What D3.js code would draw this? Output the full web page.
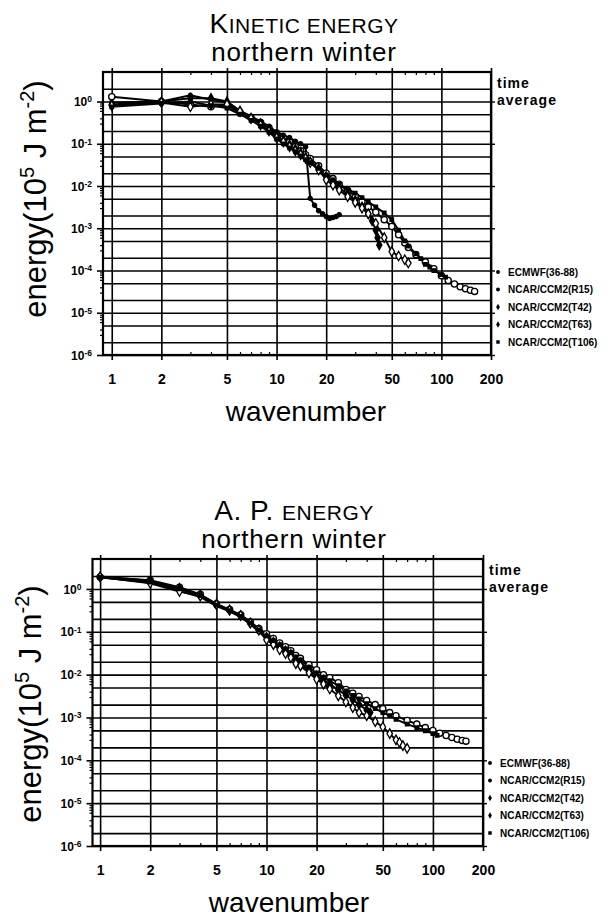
<!DOCTYPE html>
<html lang="en">
<head>
<meta charset="UTF-8">
<script src="https://cdnjs.cloudflare.com/ajax/libs/d3/7.8.5/d3.min.js"></script>
<style>
  body { margin: 0; background: #fff; }
  svg { display: block; font-family: "Liberation Sans", Arial, sans-serif; }
</style>
</head>
<body>
<svg id="fig" width="614" height="918"></svg>
<script>
// axis values
const xTicks = [1, 2, 5, 10, 20, 50, 100, 200];
const xMinor = [3, 4, 6, 7, 8, 9, 30, 40, 60, 70, 80, 90];
const yExps = [0, -1, -2, -3, -4, -5, -6];
const legendNames = ['ECMWF(36-88)', 'NCAR/CCM2(R15)', 'NCAR/CCM2(T42)', 'NCAR/CCM2(T63)', 'NCAR/CCM2(T106)'];

// kinetic energy, [wavenumber, energy in 1e5 J m-2]
const keECMWF = [[1,1.3],[2,1.0],[3,0.85],[4,0.75],[5,0.8],[6,0.55],[7,0.42],[8,0.32],[9,0.24],[10,0.18],[11,0.14],[12,0.11],[13,0.085],[14,0.068],[15,0.055],[16,0.045],[18,0.03],[20,0.02],[22,0.015],[24,0.011],[27,0.0078],[30,0.0058],[33,0.0043],[36,0.0032],[40,0.0024],[45,0.0016],[50,0.0011],[55,0.0007],[60,0.00045],[63,0.00035],[70,0.00024],[80,0.00016],[90,0.00011],[100,0.000075],[110,0.000058],[120,0.000048],[130,0.000041],[140,0.000037],[150,0.000034],[159,0.000032]];
const keR15 = [[1,0.95],[2,1.0],[3,1.4],[4,1.1],[5,0.95],[6,0.6],[7,0.45],[8,0.34],[9,0.26],[10,0.19],[11,0.16],[12,0.14],[13,0.115],[14,0.1],[15,0.085],[16,0.0051],[17,0.0035],[18,0.0026],[19,0.0022],[20,0.0019],[21,0.0017],[22,0.0018],[23,0.0019],[24,0.0021]];
const keT42 = [[1,0.85],[2,1.0],[3,1.2],[4,1.2],[5,1.0],[6,0.6],[7,0.4],[8,0.3],[9,0.22],[10,0.15],[11,0.12],[12,0.095],[13,0.075],[14,0.06],[15,0.048],[16,0.038],[18,0.026],[20,0.017],[22,0.012],[24,0.0092],[27,0.0065],[30,0.0046],[33,0.0032],[36,0.0022],[38,0.0015],[40,0.0009],[41,0.0006],[42,0.0004]];
const keT63 = [[1,0.8],[2,0.95],[3,0.75],[4,0.85],[5,0.85],[6,0.58],[7,0.4],[8,0.28],[9,0.2],[10,0.14],[11,0.11],[12,0.085],[13,0.068],[14,0.055],[15,0.045],[16,0.036],[18,0.024],[20,0.014],[22,0.0105],[24,0.008],[27,0.0056],[30,0.0041],[33,0.003],[36,0.0022],[40,0.0013],[45,0.0006],[50,0.00028],[55,0.00022],[60,0.00018],[63,0.00015]];
const keT106 = [[1,0.75],[2,0.9],[3,1.0],[4,0.8],[5,0.7],[6,0.5],[7,0.36],[8,0.26],[9,0.19],[10,0.13],[11,0.1],[12,0.08],[13,0.065],[14,0.052],[15,0.042],[16,0.036],[18,0.026],[20,0.018],[22,0.014],[24,0.011],[27,0.0085],[30,0.0068],[33,0.0053],[36,0.0042],[40,0.0032],[45,0.0023],[50,0.0016],[55,0.0009],[60,0.0005],[63,0.00038],[70,0.00025],[75,0.00019],[80,0.00014],[85,0.00012],[90,0.0001],[100,0.00008],[106,0.00007]];

// available potential energy
const apECMWF = [[1,1.9],[2,1.6],[3,1.1],[4,0.75],[5,0.45],[6,0.33],[7,0.25],[8,0.17],[9,0.12],[10,0.09],[11,0.07],[12,0.055],[13,0.045],[14,0.036],[15,0.028],[16,0.024],[18,0.017],[20,0.013],[22,0.01],[24,0.0085],[27,0.0065],[30,0.0045],[33,0.0037],[36,0.0031],[40,0.0025],[45,0.002],[50,0.0016],[55,0.0013],[60,0.0011],[70,0.00085],[80,0.0007],[90,0.00058],[100,0.0005],[110,0.00043],[120,0.00038],[130,0.00034],[140,0.00031],[150,0.00029],[158,0.00028]];
const apR15 = [[1,1.9],[2,1.4],[3,0.9],[4,0.65],[5,0.4],[6,0.3],[7,0.22],[8,0.15],[9,0.1],[10,0.07],[11,0.055],[12,0.042],[13,0.034],[14,0.028],[15,0.021],[16,0.017],[18,0.012],[20,0.0085],[22,0.0065],[24,0.0052]];
const apT42 = [[1,1.95],[2,1.55],[3,1.05],[4,0.72],[5,0.44],[6,0.32],[7,0.24],[8,0.16],[9,0.11],[10,0.075],[11,0.058],[12,0.045],[13,0.036],[14,0.03],[15,0.022],[16,0.019],[18,0.013],[20,0.0095],[22,0.0075],[24,0.006],[27,0.0044],[30,0.0033],[33,0.0026],[36,0.002],[40,0.0015],[42,0.0013]];
const apT63 = [[1,1.9],[2,1.36],[3,0.87],[4,0.68],[5,0.43],[6,0.32],[7,0.24],[8,0.16],[9,0.11],[10,0.065],[11,0.05],[12,0.038],[13,0.031],[14,0.025],[15,0.018],[16,0.016],[18,0.011],[20,0.0078],[22,0.006],[24,0.0046],[27,0.0032],[30,0.0023],[33,0.0017],[36,0.0013],[40,0.0011],[45,0.0008],[50,0.0006],[55,0.00042],[60,0.0003],[63,0.00026],[66,0.00022],[70,0.00019]];
const apT106 = [[1,1.85],[2,1.45],[3,1.0],[4,0.7],[5,0.42],[6,0.31],[7,0.23],[8,0.16],[9,0.11],[10,0.08],[11,0.062],[12,0.05],[13,0.04],[14,0.033],[15,0.026],[16,0.022],[18,0.015],[20,0.011],[22,0.0088],[24,0.0072],[27,0.0055],[30,0.0042],[33,0.0033],[36,0.0027],[40,0.0021],[45,0.0016],[50,0.0013],[55,0.0011],[60,0.0009],[70,0.0007],[80,0.00058],[90,0.00049],[100,0.00042],[106,0.00038]];

const symTypes = [d3.symbolCircle, d3.symbolCircle, d3.symbolDiamond, d3.symbolDiamond, d3.symbolSquare];
const symSize = [30, 14, 24, 26, 12];
const symFill = ['#fff', '#000', '#000', '#fff', '#000'];

const svg = d3.select('#fig');

function drawPanel(p) {
  const x = d3.scaleLog().domain(p.xDomain).range([p.left, p.right]);
  const y = d3.scaleLog().domain([1e-6, 5]).range([p.bottom, p.top]);
  const w = p.right - p.left, h = p.bottom - p.top;
  const g = svg.append('g');

  const gridY = [];
  yExps.forEach(e => [1, 2, 5].forEach(m => gridY.push(m * Math.pow(10, e))));
  const minorY = [];
  yExps.slice(1).forEach(e => [3, 4, 6, 7, 8, 9].forEach(m => minorY.push(m * Math.pow(10, e))));

  // horizontal grid
  g.append('g').attr('transform', `translate(${p.left},0)`)
    .call(d3.axisLeft(y).tickValues(gridY.filter(v => v < 4)).tickSize(-w).tickFormat(''))
    .call(a => a.select('.domain').remove())
    .selectAll('line').attr('stroke', '#000').attr('stroke-width', 1.6);

  // vertical grid, poking out of the frame
  g.append('g').attr('transform', `translate(0,${p.bottom + 5})`)
    .call(d3.axisBottom(x).tickValues(xTicks).tickSize(-(h + 9)).tickFormat(''))
    .call(a => a.select('.domain').remove())
    .selectAll('line').attr('stroke', '#000').attr('stroke-width', 1.6);

  // minor ticks
  [p.bottom, p.top].forEach((yy, k) => {
    g.append('g').attr('transform', `translate(0,${yy})`)
      .call(d3.axisBottom(x).tickValues(xMinor).tickSize(k ? 3 : -3).tickFormat(''))
      .call(a => a.select('.domain').remove())
      .selectAll('line').attr('stroke', '#000').attr('stroke-width', 1.2);
  });
  g.append('g').attr('transform', `translate(${p.left},0)`)
    .call(d3.axisLeft(y).tickValues(minorY).tickSize(3).tickFormat(''))
    .call(a => a.select('.domain').remove())
    .selectAll('line').attr('stroke', '#000').attr('stroke-width', 1.2);

  // left ticks + labels
  const decades = yExps.map(e => Math.pow(10, e));
  const yl = g.append('g').attr('transform', `translate(${p.left},0)`)
    .call(d3.axisLeft(y).tickValues(decades).tickSize(6).tickFormat(''))
    .call(a => a.select('.domain').remove());
  yl.selectAll('line').attr('stroke', '#000').attr('stroke-width', 1.6);
  yl.selectAll('.tick').each(function (d) {
    const t = d3.select(this).append('text')
      .attr('x', -11).attr('dy', '0.35em').attr('text-anchor', 'end')
      .attr('fill', '#000').attr('font-size', 12).attr('font-weight', 'bold')
      .attr('font-family', '"Liberation Sans", Arial, sans-serif');
    t.append('tspan').text('10');
    t.append('tspan').attr('dy', '-0.45em').attr('font-size', 8.5)
      .text(String(Math.round(Math.log10(d))));
  });

  // right ticks
  g.append('g').attr('transform', `translate(${p.right},0)`)
    .call(d3.axisRight(y).tickValues(decades).tickSize(4).tickFormat(''))
    .call(a => a.select('.domain').remove())
    .selectAll('line').attr('stroke', '#000').attr('stroke-width', 1.4);

  // x labels
  g.append('g').attr('transform', `translate(0,${p.bottom})`)
    .call(d3.axisBottom(x).tickValues(xTicks).tickSize(0).tickPadding(19).tickFormat(d3.format('d')))
    .attr('font-size', null).attr('font-family', null)
    .call(a => a.select('.domain').remove())
    .selectAll('text').attr('fill', '#000').attr('font-size', 14).attr('font-weight', 'bold');

  // frame
  g.append('rect').attr('x', p.left).attr('y', p.top).attr('width', w).attr('height', h)
    .attr('fill', 'none').attr('stroke', '#000').attr('stroke-width', 2.2);

  // series
  const line = d3.line().x(d => x(d[0])).y(d => y(d[1]));
  p.series.forEach(s => {
    g.append('path').datum(s).attr('d', line)
      .attr('fill', 'none').attr('stroke', '#000').attr('stroke-width', 2);
  });
  p.series.forEach((s, i) => {
    g.append('g').selectAll('path').data(s).join('path')
      .attr('transform', d => `translate(${x(d[0])},${y(d[1])})`)
      .attr('d', d3.symbol().type(symTypes[i]).size(symSize[i]))
      .attr('fill', symFill[i]).attr('stroke', '#000').attr('stroke-width', 1.3);
  });

  // titles
  const cx = p.titleX;
  const t1 = g.append('text').attr('x', cx).attr('y', p.top - 39).attr('text-anchor', 'middle')
    .attr('letter-spacing', 0.5).attr('fill', '#000');
  p.title.forEach(part => t1.append('tspan').attr('font-size', part[1]).text(part[0]));
  g.append('text').attr('x', cx).attr('y', p.top - 11).attr('text-anchor', 'middle')
    .attr('font-size', 26).attr('letter-spacing', 0.8).attr('fill', '#000').text('northern winter');

  // time average note
  const note = g.append('g').attr('font-size', 14).attr('font-weight', 'bold').attr('letter-spacing', 1);
  note.append('text').attr('x', p.right + 6).attr('y', p.top + 16).text('time');
  note.append('text').attr('x', p.right + 6).attr('y', p.top + 33).text('average');

  // legend
  const lg = g.append('g').attr('font-size', 10).attr('font-weight', 'bold');
  legendNames.forEach((name, i) => {
    const yy = p.bottom - 83 + i * 17.5;
    lg.append('path').attr('transform', `translate(${p.right + 7},${yy})`)
      .attr('d', d3.symbol().type(symTypes[i]).size(12)).attr('fill', '#000');
    lg.append('text').attr('x', p.right + 17).attr('y', yy + 3.5).text(name);
  });

  // axis titles
  g.append('text').attr('x', p.waveX).attr('y', p.bottom + 66).attr('text-anchor', 'middle')
    .attr('font-size', 28).attr('fill', '#000').text('wavenumber');
  const yt = g.append('text').attr('text-anchor', 'middle').attr('font-size', 31).attr('fill', '#000')
    .attr('transform', `translate(${p.yTitleX},${p.yTitleY}) rotate(-90)`);
  yt.append('tspan').text('energy(10');
  yt.append('tspan').attr('font-size', 20).attr('dy', -12).text('5');
  yt.append('tspan').attr('dy', 12).text(' J m');
  yt.append('tspan').attr('font-size', 20).attr('dy', -12).text('-2');
  yt.append('tspan').attr('dy', 12).text(')');
}

drawPanel({
  left: 103, right: 491, top: 72, bottom: 355, xDomain: [0.885, 200],
  titleX: 304, waveX: 306, yTitleX: 46, yTitleY: 199,
  title: [['K', 28], ['INETIC ENERGY', 21]],
  series: [keECMWF, keR15, keT42, keT63, keT106]
});
drawPanel({
  left: 92.5, right: 483, top: 559, bottom: 846, xDomain: [0.9, 200],
  titleX: 294, waveX: 289, yTitleX: 41, yTitleY: 704,
  title: [['A. P. ', 28], ['ENERGY', 21]],
  series: [apECMWF, apR15, apT42, apT63, apT106]
});
</script>
</body>
</html>
